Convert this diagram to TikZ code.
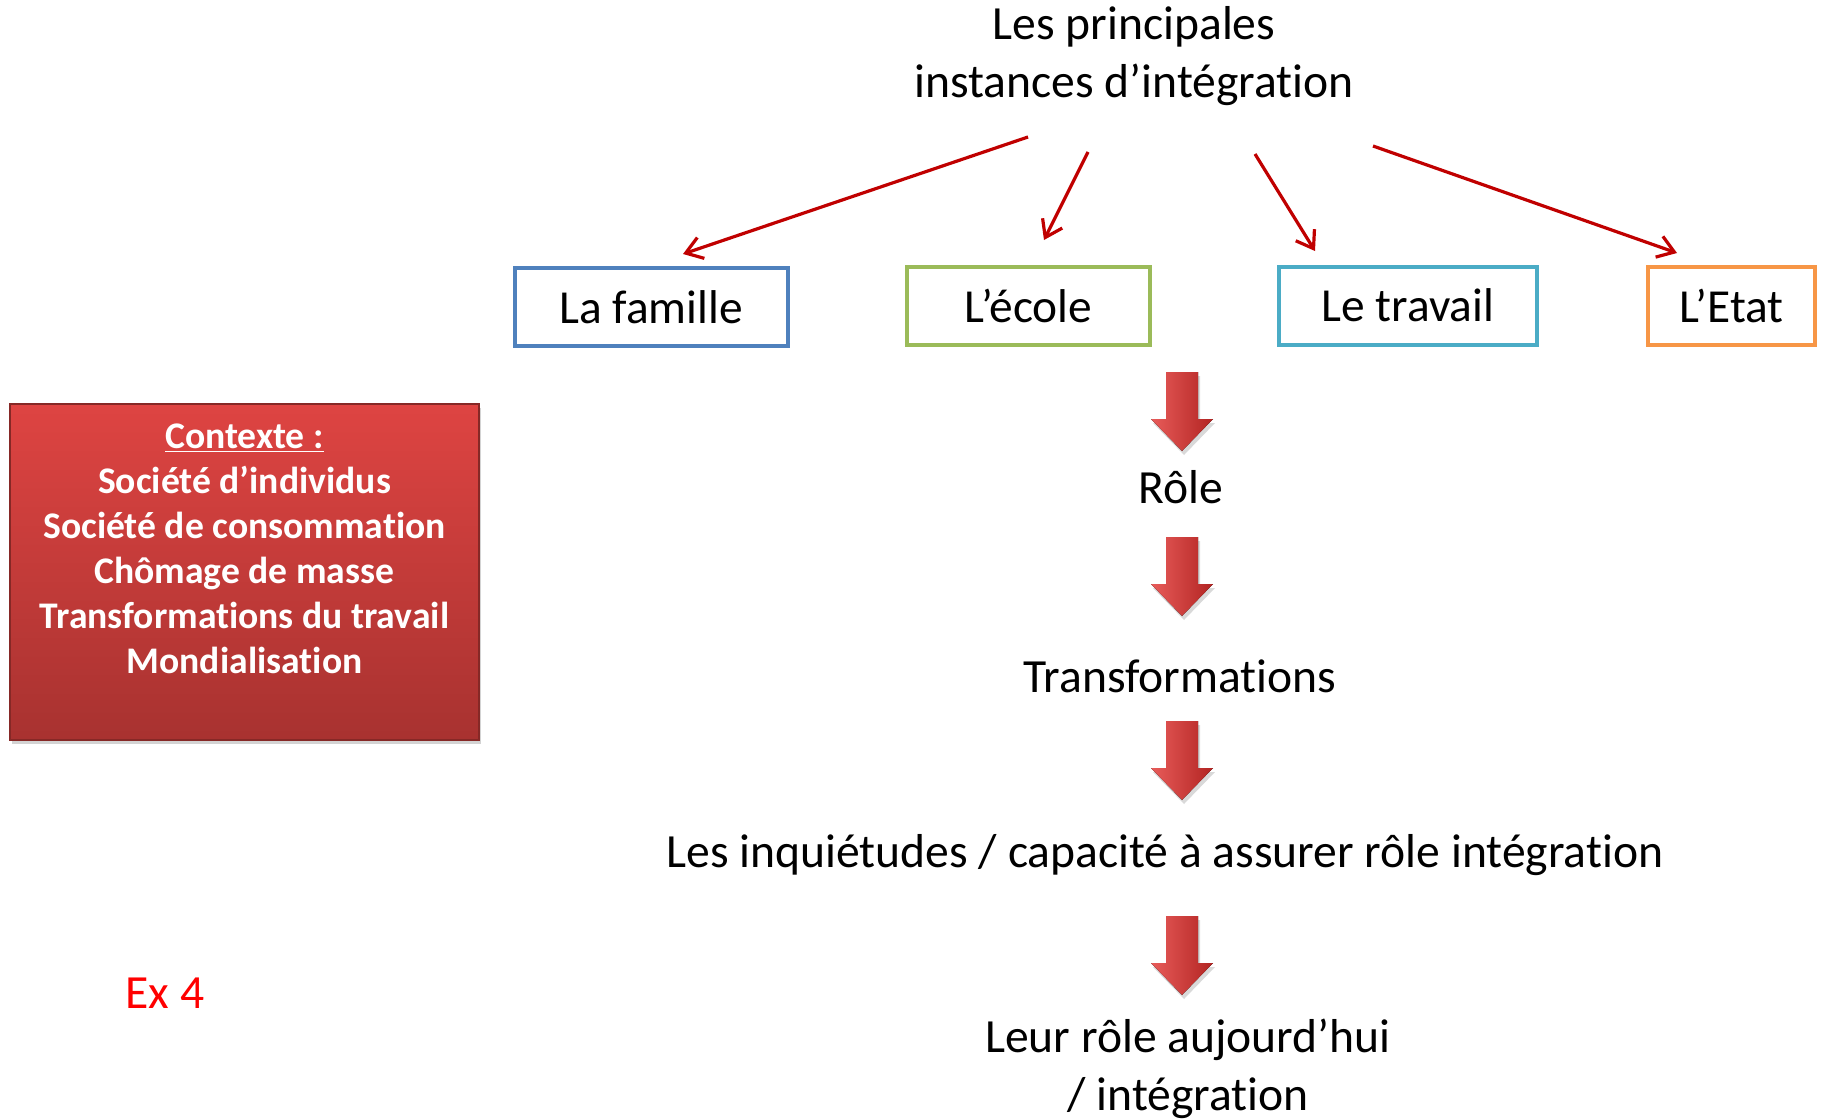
\documentclass[tikz,border=0pt]{standalone}
\usepackage{fontspec}
\setmainfont{Carlito}[Ligatures=NoCommon]
\usetikzlibrary{arrows.meta, positioning, shadows}

\definecolor{famblue}{RGB}{79,129,189}
\definecolor{ecogreen}{RGB}{155,187,89}
\definecolor{travaqua}{RGB}{75,172,198}
\definecolor{etatorange}{RGB}{247,150,70}
\definecolor{linkred}{RGB}{192,0,0}
\definecolor{ctxtop}{RGB}{222,68,66}
\definecolor{ctxbot}{RGB}{168,50,48}
\definecolor{arrowlight}{RGB}{232,92,90}
\definecolor{arrowdark}{RGB}{178,36,34}

\begin{document}
\begin{tikzpicture}[x=0.5pt, y=-0.5pt,
    instance/.style={draw, line width=2pt, fill=white, minimum height=39pt,
      inner sep=0pt, font=\fontsize{23.7}{28}\selectfont},
    link/.style={draw=linkred, line width=1.6pt,
      -{Straight Barb[length=8pt, width=11pt]}},
    stage/.style={align=center, inner sep=0pt, font=\fontsize{23.8}{29}\selectfont}]
  \useasboundingbox (0,0) rectangle (1821,1119);

  % Titre
  \node[stage] (titre) at (1134,56) {Les principales\\instances d’intégration};

  % Les instances
  \node[instance, draw=famblue, minimum width=136.5pt] (famille) at (651,307) {La famille};
  \node[instance, draw=ecogreen, minimum width=121.5pt] (ecole) at (1028.5,305.5) {L’école};
  \node[instance, draw=travaqua, minimum width=129pt] (travail) at (1408,305.5) {Le travail};
  \node[instance, draw=etatorange, minimum width=83.5pt] (etat) at (1731.5,305.5) {L’Etat};

  % Fleches vers les instances
  \coordinate (s1) at (1028,137);  \coordinate (e1) at (683,254);
  \coordinate (s2) at (1088,152);  \coordinate (e2) at (1044,240);
  \coordinate (s3) at (1255,154);  \coordinate (e3) at (1315,251);
  \coordinate (s4) at (1373,146);  \coordinate (e4) at (1677,253);
  \draw[link] (s1) -- (e1);
  \draw[link] (s2) -- (e2);
  \draw[link] (s3) -- (e3);
  \draw[link] (s4) -- (e4);

  % Contexte
  \node[draw=ctxbot!80!black, line width=0.6pt, top color=ctxtop, bottom color=ctxbot,
        minimum width=234.5pt, minimum height=168pt,
        drop shadow={shadow xshift=1pt, shadow yshift=-2pt, opacity=0.35}] (ctx) at (244.5,572) {};
  \node[align=center, text=white, inner sep=0pt,
        font=\bfseries\fontsize{18.8}{22.5}\selectfont] (ctxtext) at (244.5,549)
    {\underline{Contexte :}\\Société d’individus\\Société de consommation\\Chômage de masse\\Transformations du travail\\Mondialisation};

  % Etapes
  \node[stage] (role) at (1181,487) {Rôle};
  \node[stage] (transfo) at (1180,676) {Transformations};
  \node[stage] (inquiet) at (1165,855) {Les inquiétudes / capacité à assurer rôle intégration};
  \node[stage] (auj) at (1188,1069) {Leur rôle aujourd’hui\\/ intégration};

  % Grosses fleches
  \foreach \ty in {372,537,721,916}{
    \fill[left color=arrowlight, right color=arrowdark,
          drop shadow={shadow xshift=1pt, shadow yshift=-2pt, opacity=0.3}]
      (1166,\ty) -- (1198,\ty) -- (1198,\ty+47) -- (1213,\ty+47) -- (1182,\ty+79)
      -- (1151,\ty+47) -- (1166,\ty+47) -- cycle;
  }

  \node[text=red, inner sep=0pt, font=\fontsize{23.8}{28}\selectfont] (ex) at (165,993) {Ex 4};
\end{tikzpicture}
\end{document}
